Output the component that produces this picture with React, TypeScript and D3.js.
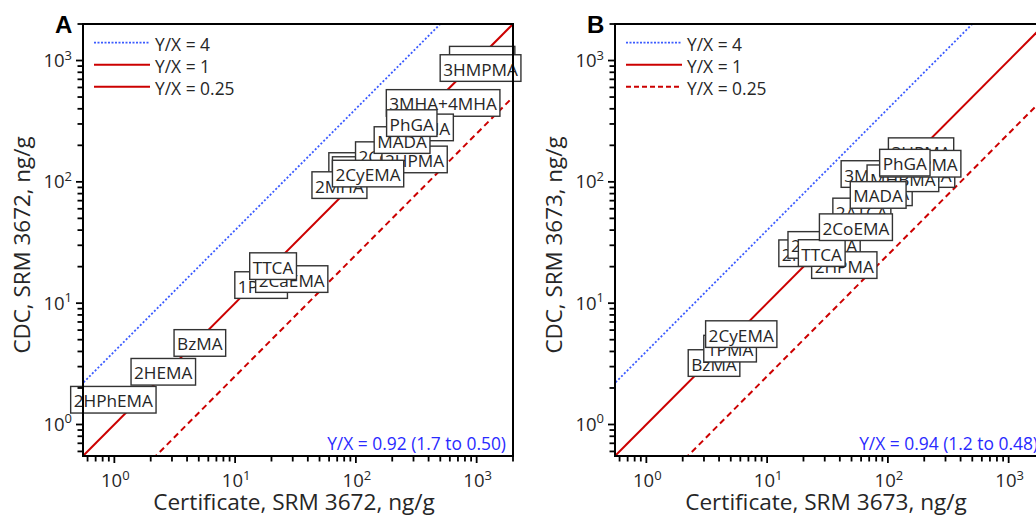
import React, { useEffect, useRef } from 'react';
import * as d3 from 'd3';

// ---------- data ----------
const axisDomain: [number, number] = [0.55, 2000];
const decadeValues = [1, 10, 100, 1000];
const decadeExponents = ['0', '1', '2', '3'];

const ratioValues = [4, 1, 0.25];
const legendLabels = ['Y/X = 4', 'Y/X = 1', 'Y/X = 0.25'];

// Panel A (SRM 3672) – drawn back to front
const labelsA = ['2HPhEMA', '2HEMA', 'BzMA', '1PMA', '2CaEMA', 'TTCA', 'AAMA', 'DHBMA', '2MHA', '2CoEMA', '2HPMA', '2CyEMA', '3MHA+4MHA', 'MA', 'MADA', 'PhGA', '3HPMA', '3HMPMA'];
const certA = [0.98, 2.54, 5.1, 16.4, 29.4, 20.6, 100, 123, 73, 199, 306, 126, 527, 470, 241, 290, 1110, 1076];
const cdcA = [1.6, 2.72, 4.7, 14.1, 15.8, 20.2, 135, 125, 94, 166, 153, 117, 447, 281, 221, 305, 1016, 867];

// Panel B (SRM 3673) – drawn back to front
const labelsB = ['BzMA', '1PMA', '2CyEMA', '2HEMA', '2CaEMA', '2HPMA', 'TTCA', '2ATCA', '2CoEMA', '2MHA', '3MHA+4MHA', 'MHBMA', 'MADA', '3HPMA', '3HMPMA', 'PhGA'];
const certB = [3.63, 4.93, 6.1, 23.1, 29.6, 43.5, 28.3, 60.8, 54.3, 94, 121, 133, 83, 188, 186, 138];
const cdcB = [3.21, 4.22, 5.56, 25.8, 30.2, 20.6, 25.9, 57, 42.3, 82, 116, 107, 78, 179, 141, 144];

const summaryA = 'Y/X = 0.92 (1.7 to 0.50)';
const summaryB = 'Y/X = 0.94 (1.2 to 0.48)';
const panelLetters = ['A', 'B'];
const xTitles = ['Certificate, SRM 3672, ng/g', 'Certificate, SRM 3673, ng/g'];
const yTitles = ['CDC, SRM 3672, ng/g', 'CDC, SRM 3673, ng/g'];

// ---------- styles ----------
const FONT = "'Open Sans', 'Noto Sans', sans-serif";
const BLUE = '#3b5bff';
const RED = '#cc0000';
const TEXT = '#262626';

function drawPanel(
  root: d3.Selection<SVGGElement, unknown, null, undefined>,
  idx: number,
  offsetX: number,
  labels: string[],
  cert: number[],
  cdc: number[],
  summary: string,
  legendStyles: string[]
) {
  const left = 83 + offsetX;
  const right = 513 + offsetX;
  const top = 24;
  const bottom = 456;
  const x = d3.scaleLog().domain(axisDomain).range([left, right]);
  const y = d3.scaleLog().domain(axisDomain).range([bottom, top]);

  const g = root.append('g');
  const clipId = 'clip' + idx;
  g.append('clipPath').attr('id', clipId).append('rect')
    .attr('x', left).attr('y', top).attr('width', right - left).attr('height', bottom - top);

  // ratio lines
  const lines = g.append('g').attr('clip-path', `url(#${clipId})`);
  ratioValues.forEach((r, i) => {
    const xs = [axisDomain[0] / 10, axisDomain[1] * 10];
    const style = i === 0 ? 'dotted' : i === 1 ? 'solid' : 'dashed';
    const l = lines.append('line')
      .attr('x1', x(xs[0])).attr('y1', y(xs[0] * r))
      .attr('x2', x(xs[1])).attr('y2', y(xs[1] * r))
      .attr('stroke', i === 0 ? BLUE : RED)
      .attr('stroke-width', i === 0 ? 1.8 : 2);
    if (style === 'dotted') l.attr('stroke-dasharray', '2,2');
    if (style === 'dashed') l.attr('stroke-dasharray', '6,4');
  });

  // legend
  legendStyles.forEach((style, i) => {
    const ly = 42.7 + i * 22;
    const l = g.append('line')
      .attr('x1', left + 11).attr('x2', left + 67)
      .attr('y1', ly).attr('y2', ly)
      .attr('stroke', i === 0 ? BLUE : RED)
      .attr('stroke-width', i === 0 ? 1.8 : 2);
    if (style === 'dotted') l.attr('stroke-dasharray', '2,1.5');
    if (style === 'dashed') l.attr('stroke-dasharray', '5,3');
    g.append('text').attr('x', left + 72).attr('y', ly + 1)
      .attr('dominant-baseline', 'central')
      .attr('font-family', FONT).attr('font-size', 17.4).attr('fill', TEXT)
      .text(legendLabels[i]);
  });

  // labels with boxes
  labels.forEach((lab, i) => {
    const cx = x(cert[i]);
    const cy = y(cdc[i]);
    const lg = g.append('g');
    const rect = lg.append('rect');
    const t = lg.append('text')
      .attr('x', cx).attr('y', cy + 1)
      .attr('text-anchor', 'middle').attr('dominant-baseline', 'central')
      .attr('font-family', FONT).attr('font-size', 17.2).attr('fill', TEXT)
      .text(lab);
    const bb = (t.node() as SVGTextElement).getBBox();
    rect.attr('x', bb.x - 3).attr('width', bb.width + 6)
      .attr('y', cy - 13.3).attr('height', 26.6)
      .attr('fill', 'white').attr('stroke', '#333').attr('stroke-width', 1.4);
  });

  // summary
  g.append('text').attr('x', right - 7).attr('y', 443)
    .attr('text-anchor', 'end').attr('dominant-baseline', 'central')
    .attr('font-family', FONT).attr('font-size', 17.4).attr('fill', '#2a2aff')
    .text(summary);

  // frame
  g.append('rect').attr('x', left).attr('y', top).attr('width', right - left).attr('height', bottom - top)
    .attr('fill', 'none').attr('stroke', 'black').attr('stroke-width', 2);

  // ticks
  const minor: number[] = [];
  [0.1, 1, 10, 100, 1000].forEach(d => {
    for (let k = 1; k <= 9; k++) {
      const v = d * k;
      if (v >= axisDomain[0] && v <= axisDomain[1] * 1.0001) minor.push(v);
    }
  });
  minor.forEach(v => {
    const major = decadeValues.includes(v);
    const len = major ? 7 : 5.5;
    g.append('line').attr('x1', x(v)).attr('x2', x(v)).attr('y1', bottom).attr('y2', bottom + len)
      .attr('stroke', 'black').attr('stroke-width', 1.8);
    g.append('line').attr('y1', y(v)).attr('y2', y(v)).attr('x1', left).attr('x2', left - len)
      .attr('stroke', 'black').attr('stroke-width', 1.8);
  });

  // tick labels
  decadeValues.forEach((v, i) => {
    const tx = g.append('text').attr('x', x(v) + 1).attr('y', 487)
      .attr('text-anchor', 'middle').attr('font-family', FONT).attr('font-size', 18.5).attr('fill', TEXT);
    tx.append('tspan').text('10');
    tx.append('tspan').attr('font-size', 13).attr('dy', -7.5).text(decadeExponents[i]);
    const ty = g.append('text').attr('x', left - 11).attr('y', y(v) + 6.5)
      .attr('text-anchor', 'end').attr('font-family', FONT).attr('font-size', 18.5).attr('fill', TEXT);
    ty.append('tspan').text('10');
    ty.append('tspan').attr('font-size', 13).attr('dy', -7.5).text(decadeExponents[i]);
  });

  // axis titles
  g.append('text').attr('x', (left + right) / 2 - 4).attr('y', 509.5)
    .attr('text-anchor', 'middle').attr('font-family', FONT).attr('font-size', 22.6).attr('fill', TEXT)
    .text(xTitles[idx]);
  g.append('text').attr('transform', `translate(${30 + offsetX},245) rotate(-90)`)
    .attr('text-anchor', 'middle').attr('font-family', FONT).attr('font-size', 22.4).attr('fill', TEXT)
    .text(yTitles[idx]);

  // panel letter
  g.append('text').attr('x', 55 + offsetX).attr('y', 32.7)
    .attr('font-family', "'Liberation Sans', Arial, sans-serif").attr('font-weight', 'bold')
    .attr('font-size', 24).attr('fill', 'black').text(panelLetters[idx]);
}

export default function App() {
  const ref = useRef<SVGSVGElement | null>(null);
  useEffect(() => {
    const svg = d3.select(ref.current);
    svg.selectAll('*').remove();
    const root = svg.append('g');
    drawPanel(root, 0, 0, labelsA, certA, cdcA, summaryA, ['dotted', 'solid', 'solid']);
    drawPanel(root, 1, 532, labelsB, certB, cdcB, summaryB, ['dotted', 'solid', 'dashed']);
  }, []);
  return (
    <svg ref={ref} width={1036} height={516}
      style={{ position: 'absolute', left: 0, top: 0, background: 'white' }} />
  );
}
